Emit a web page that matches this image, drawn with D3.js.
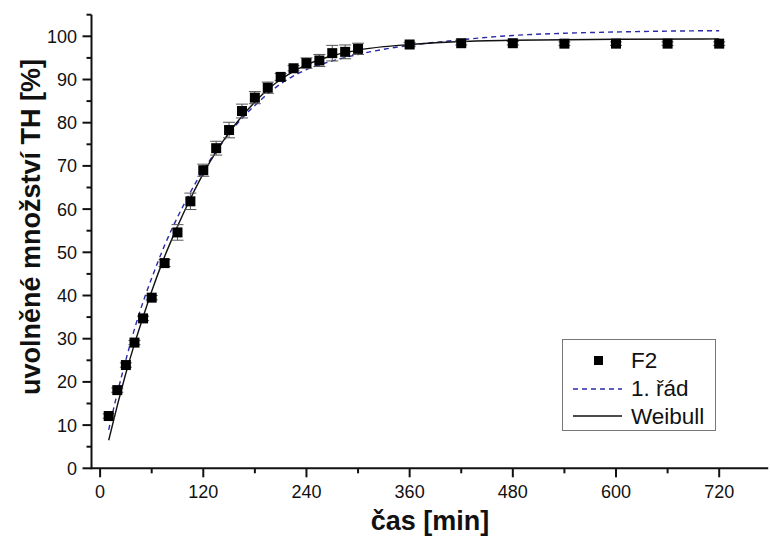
<!DOCTYPE html>
<html>
<head>
<meta charset="utf-8">
<script src="https://cdn.jsdelivr.net/npm/d3@7"></script>
<style>
  html, body { margin: 0; padding: 0; background: #fff; }
  svg { display: block; }
  text { font-family: Arial, "Liberation Sans", sans-serif; fill: #111; }
</style>
</head>
<body>
<svg id="chart" width="770" height="538"></svg>
<script>
// ---- data ----
const times = [10,20,30,40,50,60,75,90,105,120,135,150,165,180,195,210,225,240,255,270,285,300,360,420,480,540,600,660,720];
const f2 = [12.1,18.1,23.9,29.1,34.7,39.5,47.5,54.6,61.8,69.0,74.1,78.3,82.7,85.8,88.1,90.6,92.6,93.8,94.4,96.1,96.4,97.1,98.1,98.4,98.4,98.3,98.3,98.3,98.3];
const f2Err = [0.5,0.5,0.5,0.5,0.5,0.5,0.8,1.8,1.9,1.4,1.6,1.8,1.6,1.4,1.3,0.8,0.6,1.2,1.4,1.8,1.6,1.3,0.5,0.4,0.4,0.4,0.4,0.4,0.4];

// fitted curves
const firstOrderT = [10,20,30,45,60,75,90,105,120,135,150,165,180,210,240,270,300,330,360,420,480,540,600,660,720];
const firstOrderV = [8.9,17.4,25.1,35.5,44.0,51.6,58.1,63.9,69.0,73.4,77.5,81.0,84.0,89.0,92.3,94.3,95.8,97.0,97.9,99.2,100.2,100.7,101.0,101.2,101.3];
const weibullT = [10,20,30,40,50,60,75,90,105,120,135,150,165,180,195,210,225,240,270,300,330,360,420,480,600,720];
const weibullV = [6.5,14.5,22.0,28.8,35.0,41.0,49.0,56.0,62.4,68.2,73.3,77.7,81.5,84.8,87.7,90.0,91.9,93.4,95.5,96.8,97.6,98.1,98.8,99.1,99.3,99.4];

const xTicksMajor = [0,120,240,360,480,600,720];
const xTicksMinor = [60,180,300,420,540,660];
const yTicksMajor = [0,10,20,30,40,50,60,70,80,90,100];
const yTicksMinor = [5,15,25,35,45,55,65,75,85,95,105];

const legendLabels = ["F2", "1. řád", "Weibull"];
const xTitle = "čas [min]";
const yTitle = "uvolněné množství TH [%]";

// ---- drawing ----
const svg = d3.select("#chart");
const x = d3.scaleLinear().domain([-10, 777]).range([91.5, 768.2]);
const y = d3.scaleLinear().domain([0, 105]).range([468.3, 14.7]);

const axisColor = "#111";

// axes lines
svg.append("line").attr("x1", x(-10)).attr("x2", x(777)).attr("y1", y(0)).attr("y2", y(0))
  .attr("stroke", axisColor).attr("stroke-width", 2);
svg.append("line").attr("x1", x(-10)).attr("x2", x(-10)).attr("y1", y(0)+1).attr("y2", y(105))
  .attr("stroke", axisColor).attr("stroke-width", 2);

// x ticks
svg.selectAll(".xmaj").data(xTicksMajor).enter().append("line")
  .attr("x1", d => x(d)).attr("x2", d => x(d)).attr("y1", y(0)).attr("y2", y(0) + 9)
  .attr("stroke", axisColor).attr("stroke-width", 2);
svg.selectAll(".xmin").data(xTicksMinor).enter().append("line")
  .attr("x1", d => x(d)).attr("x2", d => x(d)).attr("y1", y(0)).attr("y2", y(0) + 5)
  .attr("stroke", axisColor).attr("stroke-width", 2);
svg.selectAll(".xlab").data(xTicksMajor).enter().append("text")
  .attr("x", d => x(d)).attr("y", 498).attr("text-anchor", "middle")
  .attr("font-size", 18).text(d => d);

// y ticks
svg.selectAll(".ymaj").data(yTicksMajor).enter().append("line")
  .attr("x1", x(-10)).attr("x2", x(-10) - 9).attr("y1", d => y(d)).attr("y2", d => y(d))
  .attr("stroke", axisColor).attr("stroke-width", 2);
svg.selectAll(".ymin").data(yTicksMinor).enter().append("line")
  .attr("x1", x(-10)).attr("x2", x(-10) - 5).attr("y1", d => y(d)).attr("y2", d => y(d))
  .attr("stroke", axisColor).attr("stroke-width", 2);
svg.selectAll(".ylab").data(yTicksMajor).enter().append("text")
  .attr("x", 77).attr("y", d => y(d) + 6.5).attr("text-anchor", "end")
  .attr("font-size", 18).text(d => d);

// titles
svg.append("text").attr("x", 430).attr("y", 530).attr("text-anchor", "middle")
  .attr("font-size", 27).attr("font-weight", "bold").text(xTitle);
svg.append("text").attr("transform", "translate(40,227) rotate(-90)").attr("text-anchor", "middle")
  .attr("font-size", 27).attr("font-weight", "bold").text(yTitle);

// curves
const line = d3.line().curve(d3.curveMonotoneX).x(d => x(d[0])).y(d => y(d[1]));
svg.append("path").datum(d3.zip(firstOrderT, firstOrderV)).attr("d", line)
  .attr("fill", "none").attr("stroke", "#2a2aa6").attr("stroke-width", 1.4).attr("stroke-dasharray", "5,4");
svg.append("path").datum(d3.zip(weibullT, weibullV)).attr("d", line)
  .attr("fill", "none").attr("stroke", "#111").attr("stroke-width", 1.4);

// error bars
const pts = d3.zip(times, f2, f2Err);
const eb = svg.append("g").attr("stroke", "#555").attr("stroke-width", 1);
pts.forEach(([t, v, e]) => {
  eb.append("line").attr("x1", x(t)).attr("x2", x(t)).attr("y1", y(v - e)).attr("y2", y(v + e));
  eb.append("line").attr("x1", x(t) - 6).attr("x2", x(t) + 6).attr("y1", y(v - e)).attr("y2", y(v - e));
  eb.append("line").attr("x1", x(t) - 6).attr("x2", x(t) + 6).attr("y1", y(v + e)).attr("y2", y(v + e));
});

// markers
const ms = 10;
svg.selectAll(".pt").data(pts).enter().append("rect")
  .attr("x", d => x(d[0]) - ms / 2).attr("y", d => y(d[1]) - ms / 2)
  .attr("width", ms).attr("height", ms).attr("fill", "#000");

// legend
const lg = svg.append("g");
lg.append("rect").attr("x", 562.5).attr("y", 339.5).attr("width", 153).attr("height", 91)
  .attr("fill", "#fff").attr("stroke", "#777").attr("stroke-width", 1);
lg.append("rect").attr("x", 594).attr("y", 356).attr("width", 9).attr("height", 9).attr("fill", "#000");
lg.append("line").attr("x1", 573).attr("x2", 622).attr("y1", 389).attr("y2", 389)
  .attr("stroke", "#2a2aa6").attr("stroke-width", 1.3).attr("stroke-dasharray", "5,4");
lg.append("line").attr("x1", 573).attr("x2", 622).attr("y1", 416).attr("y2", 416)
  .attr("stroke", "#111").attr("stroke-width", 1.3);
lg.selectAll(".lt").data(legendLabels).enter().append("text")
  .attr("x", 631).attr("y", (d, i) => 368 + i * 28).attr("font-size", 22.5).text(d => d);
</script>
</body>
</html>
